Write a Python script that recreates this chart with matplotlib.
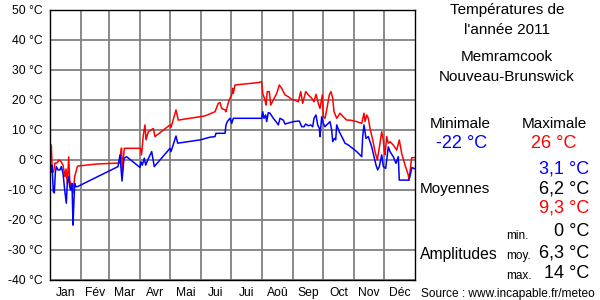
import matplotlib
matplotlib.use("Agg")
import matplotlib.pyplot as plt

plt.rcParams["font.family"] = ["Liberation Sans", "DejaVu Sans"]

# data (day of year, temperature in °C)
min_days = [0.7, 1.3, 2, 3.3, 4.3, 5.3, 6.3, 8, 10, 11.3, 13, 14.7, 16.3, 17.3, 18.7, 19.7,
            20.7, 22, 23, 23.7, 24.7, 25.7, 27.3, 68, 70, 72, 74, 76.7, 90, 91, 92.3, 94.3,
            95.7, 97.7, 101.7, 104.3, 120, 121, 126, 127.7, 150, 160, 165, 166, 175, 176,
            177.3, 180, 181.7, 183.3, 211.7, 212.7, 214, 215.7, 216.7, 218.3, 220, 223.3,
            226, 228.3, 230, 233.3, 235, 239.3, 243.3, 249.3, 251.7, 254, 255.7, 258.3,
            260.7, 262.7, 264, 266, 267.7, 269.3, 270, 271.7, 273.3, 275, 276.7, 280,
            281.7, 282.7, 284.3, 285.7, 286.7, 289.3, 292.7, 295, 298.3, 306.7, 311.7,
            312.7, 314, 316, 318.3, 321.7, 324, 326, 327.7, 329.3, 331.7, 333.3, 335.7,
            338.3, 340, 343.3, 346, 348.3, 349.3, 359, 362, 365]
min_temps = [-2.2, -3.9, -1.7, -10.6, -11, -4.4, -2.2, -3.3, -3.3, -2.2, -4.4, -10, -14.4,
             -7.8, -5.6, -8.9, -10, -7.8, -21.7, -15.6, -7.8, -8.9, -8.9, -2.2, 1.7, -7,
             0.6, 1.1, -2.5, -0.6, -1.7, 0.6, -1.7, 0, 2.8, -2.2, 3.9, 2.8, 8, 5.6, 6.7,
             7.6, 7.8, 8.9, 8.9, 11.7, 12.8, 13.9, 12.2, 13.9, 13.9, 16.1, 13.9, 15, 12.8,
             15.8, 15.6, 13.9, 12.8, 11.7, 13.9, 13.3, 12, 12.4, 12.8, 13, 11.1, 11.1, 12,
             11.4, 11.7, 11.1, 13.9, 15, 11.7, 10.6, 7.8, 14.4, 12.2, 11.1, 11.7, 12.8,
             10, 6.1, 7.2, 6.7, 11.7, 9.4, 7.2, 5.6, 5, 2.8, 1.1, 7.8, 11.7, 7.2, 7.8, 4.4,
             1.1, -1.7, -3.3, -2.2, 1.7, -2.2, -2.8, 4.4, 2.8, 1.1, -1.1, 1.1, -6.7, -6.7,
             -2.5, -3]

max_days = [0.5, 1.3, 2.3, 3.5, 5, 7, 9, 11, 13, 15, 16, 17.3, 18.7, 19.7, 21.3, 23, 24.7,
            26, 27.3, 28, 48, 70, 70.7, 71.5, 72.3, 74.3, 90.5, 91.5, 93.3, 95, 96, 98.3,
            101, 103.3, 105, 120, 121, 126, 128.3, 155, 165, 168.3, 170, 171.7, 175, 176,
            178.3, 180, 181.7, 182.7, 183.3, 185, 208.3, 211.7, 212.7, 215, 216, 217.3,
            219.3, 220.7, 223.3, 226.7, 229.3, 231.7, 235, 238.3, 241.7, 245, 248.3,
            250.7, 252.7, 254, 255.7, 258.3, 261.7, 264, 266, 268.3, 270, 272.3, 273.3,
            275, 276.7, 279.3, 281, 282.7, 284, 286.7, 290, 293.3, 296.7, 300, 306.7,
            311.7, 314, 315, 316.7, 318.3, 320, 322.7, 325, 327.3, 330, 331.7, 333.3,
            334.3, 335, 336.7, 338.3, 340, 343.3, 346.7, 349.3, 351.7, 355, 358.3, 359,
            361.7, 365]
max_temps = [0, 5, -4, -4, -1, -1, 0, -0.5, -1.7, -5.6, -3, -7.8, 1, -6.7, -8.9, -11.1,
             -5.6, -3.9, -2.2, -2, -1.3, -1, 2.2, 4, -3.9, 3.9, 3.9, 1.7, 8.3, 11.7, 6.7,
             9.4, 10, 10.5, 7.8, 11.7, 10.8, 16.7, 13.3, 14.7, 16.1, 18.9, 19.1, 17.2,
             16.7, 16.1, 19.1, 20.6, 21.7, 23.9, 22.2, 25, 25.8, 26.1, 22.2, 20, 18.3,
             22.8, 22.8, 18.3, 20, 22.2, 25, 23.9, 21.7, 21.1, 20.2, 20, 19.4, 22.8, 18.9,
             20.6, 22.8, 21.7, 20.6, 19.4, 21.9, 18.9, 17.2, 21.7, 14.4, 13.9, 16.7, 21.7,
             22.8, 20.6, 16.1, 13.9, 15.6, 14.4, 13.3, 13.3, 12.8, 12.2, 15.6, 12.8, 15,
             13.9, 10.6, 6.7, 2.8, 0, 5.6, 9.4, 6.7, 3.3, 1.7, 7.8, 5.6, 6.1, 5, 3.3, 6.7,
             2.2, -1.7, -5, -6.7, 0.8, 0.8]

months = ["Jan", "Fév", "Mar", "Avr", "Mai", "Jui", "Jui", "Aoû", "Sep", "Oct", "Nov", "Déc"]
month_len = [31, 28, 31, 30, 31, 30, 31, 31, 30, 31, 30, 31]
y_ticks = [-40, -30, -20, -10, 0, 10, 20, 30, 40, 50]

bounds = [0]
for m in month_len:
    bounds.append(bounds[-1] + m)
mids = [(bounds[i] + bounds[i + 1]) / 2 for i in range(12)]

fig = plt.figure(figsize=(6, 3), dpi=100)
ax = fig.add_axes([50 / 600, 20 / 300, 365 / 600, 270 / 300])

ax.plot(max_days, max_temps, color="#ff0000", lw=1.1)
ax.plot(min_days, min_temps, color="#0000ff", lw=1.1)

ax.set_xlim(0, 365)
ax.set_ylim(-40, 50)
ax.set_yticks(y_ticks)
ax.set_yticklabels([f"{t} °C" for t in y_ticks])
ax.set_xticks(bounds[1:-1])
ax.set_xticklabels([])
ax.set_xticks(mids, minor=True)
ax.set_xticklabels(months, minor=True)
ax.tick_params(axis="both", which="both", length=0, labelsize=8.7)
ax.tick_params(axis="y", pad=5)
ax.tick_params(axis="x", which="minor", pad=5)
ax.grid(True, which="major", color="#808080", lw=1.3)
ax.set_axisbelow(True)
for s in ax.spines.values():
    s.set_color("black")
    s.set_linewidth(1)


def put(x, y, s, **kw):
    fig.text(x / 600, 1 - y / 300, s, va="center", **kw)


# side panel
put(507, 10, "Températures de", ha="center", fontsize=11)
put(507, 30, "l'année 2011", ha="center", fontsize=11)
put(507, 57, "Memramcook", ha="center", fontsize=11)
put(507, 77, "Nouveau-Brunswick", ha="center", fontsize=11)
put(460, 124, "Minimale", ha="center", fontsize=11)
put(554, 124, "Maximale", ha="center", fontsize=11)
put(462, 143, "-22 °C", ha="center", fontsize=13, color="#0000ff")
put(554, 143, "26 °C", ha="center", fontsize=13, color="#ff0000")
put(589, 169, "3,1 °C", ha="right", fontsize=13, color="#0000ff")
put(589, 189, "6,2 °C", ha="right", fontsize=13)
put(589, 208, "9,3 °C", ha="right", fontsize=13, color="#ff0000")
put(420, 189, "Moyennes", ha="left", fontsize=11)
put(589, 232, "0 °C", ha="right", fontsize=13)
put(589, 253, "6,3 °C", ha="right", fontsize=13)
put(589, 273, "14 °C", ha="right", fontsize=13)
put(506, 236, "min.", ha="left", fontsize=8.5)
put(506, 256, "moy.", ha="left", fontsize=8.5)
put(506, 276, "max.", ha="left", fontsize=8.5)
put(420, 255, "Amplitudes", ha="left", fontsize=11.3)
put(508, 294, "Source : www.incapable.fr/meteo", ha="center", fontsize=8.6)

fig.savefig("out.png", dpi=100)
